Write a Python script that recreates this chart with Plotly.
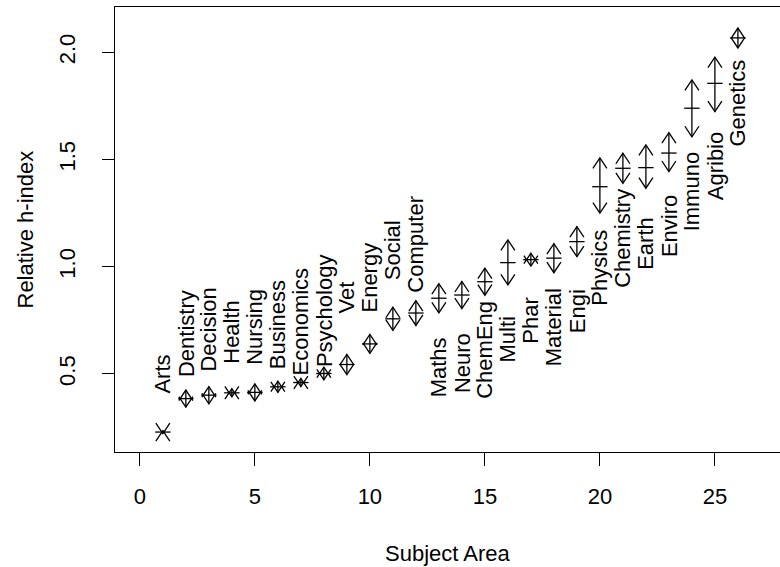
import plotly.graph_objects as go

# ---- data ----
labels = ["Arts", "Dentistry", "Decision", "Health", "Nursing", "Business", "Economics",
          "Psychology", "Vet", "Energy", "Social", "Computer", "Maths", "Neuro", "ChemEng",
          "Multi", "Phar", "Material", "Engi", "Physics", "Chemistry", "Earth", "Enviro",
          "Immuno", "Agribio", "Genetics"]
subject = list(range(1, 27))
rel_h = [0.229, 0.385, 0.401, 0.412, 0.414, 0.440, 0.460, 0.502, 0.544, 0.640, 0.757, 0.784,
         0.853, 0.868, 0.930, 1.019, 1.033, 1.040, 1.117, 1.373, 1.459, 1.462, 1.530, 1.739,
         1.855, 2.067]
lower = [0.222, 0.345, 0.361, 0.393, 0.374, 0.414, 0.441, 0.472, 0.497, 0.596, 0.703, 0.726,
         0.785, 0.805, 0.867, 0.915, 1.003, 0.972, 1.047, 1.250, 1.389, 1.366, 1.444, 1.606,
         1.723, 2.020]
upper = [0.236, 0.425, 0.441, 0.431, 0.454, 0.466, 0.479, 0.532, 0.591, 0.684, 0.811, 0.842,
         0.921, 0.931, 0.993, 1.125, 1.063, 1.108, 1.187, 1.507, 1.529, 1.568, 1.625, 1.871,
         1.977, 2.113]
x_ticks = [0, 5, 10, 15, 20, 25]
y_ticks = [0.5, 1.0, 1.5, 2.0]
n_labels_above = 12

# ---- layout constants ----
W, H = 780, 567
ML, MR, MT, MB = 115, 0, 7, 115
XR = [-1.08, 27.83]
YR = [0.136, 2.211]
FONT = "Liberation Sans, Arial, sans-serif"
FS = 22
LW = 1.3

sx = (W - ML - MR) / (XR[1] - XR[0])   # px per x unit
sy = (H - MT - MB) / (YR[1] - YR[0])   # px per y unit
head_v = 10.5 / sy
head_h = 7.0 / sx

ax_x, ax_y = [], []
for xi, lo, hi in zip(subject, lower, upper):
    ax_x += [xi, xi, None]
    ax_y += [lo, hi, None]
    ax_x += [xi - head_h, xi, xi + head_h, None]
    ax_y += [hi - head_v, hi, hi - head_v, None]
    ax_x += [xi - head_h, xi, xi + head_h, None]
    ax_y += [lo + head_v, lo, lo + head_v, None]

fig = go.Figure()
fig.add_trace(go.Scatter(x=ax_x, y=ax_y, mode="lines",
                         line=dict(color="black", width=LW), hoverinfo="skip",
                         showlegend=False))
fig.add_trace(go.Scatter(x=subject, y=rel_h, mode="markers",
                         marker=dict(symbol="line-ew", size=11, color="black",
                                     line=dict(color="black", width=LW)),
                         showlegend=False))

for i, (xi, lab) in enumerate(zip(subject, labels)):
    if i < n_labels_above:
        yy = upper[i] + 0.265
    else:
        yy = lower[i] - 0.255
    fig.add_annotation(x=xi, y=yy, text=lab, textangle=-90, showarrow=False,
                       xanchor="center", yanchor="middle",
                       font=dict(family=FONT, size=FS, color="black"))

fig.add_annotation(x=0, y=0.5, xref="paper", yref="paper", xshift=-90,
                   text="Relative h-index", textangle=-90, showarrow=False,
                   xanchor="center", yanchor="middle",
                   font=dict(family=FONT, size=FS, color="black"))
fig.add_annotation(x=0.5, y=0, xref="paper", yref="paper", yshift=-101,
                   text="Subject Area", showarrow=False,
                   xanchor="center", yanchor="middle",
                   font=dict(family=FONT, size=FS, color="black"))

fig.update_layout(
    width=W, height=H,
    margin=dict(l=ML, r=MR, t=MT, b=MB, autoexpand=False),
    paper_bgcolor="white", plot_bgcolor="white",
    font=dict(family=FONT, size=FS, color="black"),
    xaxis=dict(range=XR, tickvals=x_ticks, ticktext=[str(v) for v in x_ticks],
               showgrid=False, zeroline=False, showline=True, mirror=True,
               linecolor="black", linewidth=LW, ticks="outside", ticklen=13,
               tickwidth=LW, tickcolor="black", ticklabelstandoff=11,
               tickfont=dict(family=FONT, size=FS, color="black")),
    yaxis=dict(range=YR, tickvals=y_ticks, ticktext=[f"{v:.1f}" for v in y_ticks],
               showgrid=False, zeroline=False, showline=True, mirror=False,
               linecolor="black", linewidth=LW, ticks="outside", ticklen=12,
               tickwidth=LW, tickcolor="black", tickangle=-90, ticklabelstandoff=18,
               tickfont=dict(family=FONT, size=FS, color="black")),
)

fig.write_html("out.html", config={"displayModeBar": False},
               post_script="document.body.style.margin='0';document.body.style.overflow='hidden';")
